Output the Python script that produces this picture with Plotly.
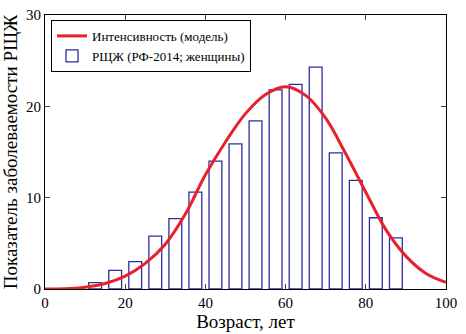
import plotly.graph_objects as go

# Histogram data: age group centres and incidence values
bar_ages = [12.5, 17.5, 22.5, 27.5, 32.5, 37.5, 42.5, 47.5, 52.5, 57.5,
            62.5, 67.5, 72.5, 77.5, 82.5, 87.5]
bar_values = [0.7, 2.05, 3.0, 5.8, 7.7, 10.6, 14.0, 15.9, 18.4, 21.8,
              22.4, 24.3, 14.9, 11.9, 7.8, 5.6]

# Model intensity curve
curve_ages = [0, 5, 10, 15, 20, 25, 30, 35, 40, 45, 50, 55, 60,
              65, 70, 75, 80, 85, 90, 95, 100]
curve_values = [0.0, 0.03, 0.2, 0.6, 1.4, 2.8, 4.9, 8.2, 12.5, 16.1, 19.2, 21.3, 22.15,
                21.2, 18.7, 14.8, 10.6, 6.5, 3.6, 1.7, 0.72]

x_ticks = [0, 20, 40, 60, 80, 100]
y_ticks = [0, 10, 20, 30]

FONT = "Liberation Serif"

fig = go.Figure()
fig.add_trace(go.Bar(
    x=bar_ages, y=bar_values, width=3.2,
    marker=dict(color="rgba(255,255,255,0)", line=dict(color="#2e2e9e", width=1.3)),
    name="РЩЖ (РФ-2014; женщины)"))
fig.add_trace(go.Scatter(
    x=curve_ages, y=curve_values, mode="lines",
    line=dict(color="#e8202a", width=3, shape="spline", smoothing=1.0),
    name="Интенсивность (модель)"))

fig.update_layout(
    width=466, height=334,
    margin=dict(l=45, r=20, t=15, b=45),
    paper_bgcolor="white", plot_bgcolor="white",
    font=dict(family=FONT, size=15, color="black"),
    showlegend=True,
    legend=dict(x=0.015, y=0.982, xanchor="left", yanchor="top",
                bgcolor="white", bordercolor="black", borderwidth=1,
                font=dict(family=FONT, size=13, color="black"), traceorder="reversed",
                tracegroupgap=0, itemwidth=30),
    xaxis=dict(range=[0, 100], tickvals=x_ticks, ticks="inside", ticklen=5,
               showline=True, linecolor="black", linewidth=1, mirror="allticks",
               showgrid=False, zeroline=False, automargin=False,
               tickfont=dict(family=FONT, size=15, color="black"),
               title=dict(text="Возраст, лет", font=dict(family=FONT, size=19), standoff=4)),
    yaxis=dict(range=[0, 30], tickvals=y_ticks, ticks="inside", ticklen=5,
               showline=True, linecolor="black", linewidth=1, mirror="allticks",
               showgrid=False, zeroline=False, automargin=False,
               tickfont=dict(family=FONT, size=15, color="black"),
               title=dict(text="Показатель заболеваемости РЩЖ", font=dict(family=FONT, size=19), standoff=4)),
)
fig.write_html("out.html", config={"displayModeBar": False},
               post_script="document.body.style.margin='0';")
